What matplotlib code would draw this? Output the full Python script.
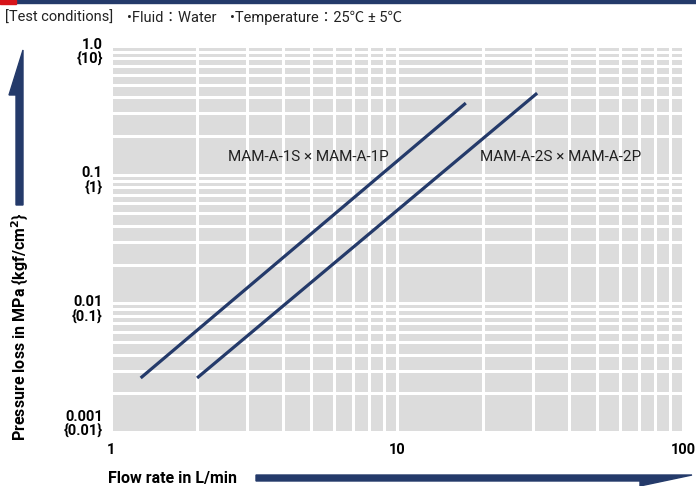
import numpy as np
import matplotlib
matplotlib.use("Agg")
import matplotlib.pyplot as plt
from matplotlib.patches import Polygon, Rectangle
from matplotlib.ticker import LogLocator, NullFormatter, FixedLocator

plt.rcParams['font.family'] = ['Roboto', 'Noto Sans CJK JP', 'DejaVu Sans']

# Datos
flujo_1 = [1.27, 17.4]          # L/min
perdida_1 = [0.00263, 0.36]     # MPa
flujo_2 = [2.0, 30.9]
perdida_2 = [0.00263, 0.43]

etiqueta_1 = 'MAM-A-1S × MAM-A-1P'
etiqueta_2 = 'MAM-A-2S × MAM-A-2P'

x_ticks = [1, 10, 100]
x_labels = ['1', '10', '100']
y_ticks = [1.0, 0.1, 0.01, 0.001]
y_labels = ['1.0\n{10}', '0.1\n{1}', '0.01\n{0.1}', '0.001\n{0.01}']

navy = '#243a6a'
W, H = 696, 486

fig = plt.figure(figsize=(6.96, 4.86), dpi=100)
ax = fig.add_axes([111 / W, 1 - 432 / H, (683 - 111) / W, (432 - 46) / H])
ax.set_facecolor('#dcdcdc')
ax.set_xscale('log')
ax.set_yscale('log')
ax.set_xlim(1, 100)
ax.set_ylim(0.001, 1.0)

ax.xaxis.set_major_locator(FixedLocator(x_ticks))
ax.xaxis.set_minor_locator(LogLocator(base=10, subs=np.arange(2, 10)))
ax.yaxis.set_major_locator(FixedLocator(y_ticks))
ax.yaxis.set_minor_locator(LogLocator(base=10, subs=np.arange(2, 10)))
ax.xaxis.set_minor_formatter(NullFormatter())
ax.yaxis.set_minor_formatter(NullFormatter())
ax.set_xticklabels(x_labels, fontsize=10.5, fontweight='bold')
ax.set_yticklabels([])
ax.tick_params(which='both', length=0, pad=8)
ax.grid(True, which='both', color='white', linewidth=2.2)
ax.set_axisbelow(True)
for s in ax.spines.values():
    s.set_visible(False)

# etiquetas del eje y en dos líneas
for v, lab in zip(y_ticks, y_labels):
    off = 10 if v == 0.001 else 0
    ax.annotate(lab, xy=(0, v), xycoords=('axes fraction', 'data'),
                xytext=(-6, 6 + off), textcoords='offset points',
                ha='right', va='top', fontsize=10.5, fontweight='bold',
                linespacing=1.0)

ax.plot(flujo_1, perdida_1, color=navy, linewidth=2.3, solid_capstyle='butt')
ax.plot(flujo_2, perdida_2, color=navy, linewidth=2.3, solid_capstyle='butt')

ax.text(4.89, 0.137, etiqueta_1, fontsize=11, ha='center', va='center', color='#222222')
ax.text(37.4, 0.137, etiqueta_2, fontsize=11, ha='center', va='center', color='#222222')

# cabecera
fig.patches.append(Rectangle((0, 1 - 3 / H), 1, 3 / H, transform=fig.transFigure,
                             color=navy, zorder=0))
fig.patches.append(Rectangle((0, 1 - 4 / H), 16 / W, 4 / H, transform=fig.transFigure,
                             color='#d7141a', zorder=1))
fig.text(5 / W, 1 - 18 / H, '[Test conditions]', fontsize=10.5, va='center',
         ha='left', color='#222222')
fig.text(127 / W, 1 - 18 / H, '•Fluid：Water', fontsize=10.5, va='center',
         ha='left', color='#222222')
fig.text(230 / W, 1 - 18 / H, '•Temperature：25℃ ± 5℃', fontsize=10.5, va='center',
         ha='left', color='#222222')

# títulos de ejes con flechas
fig.text(20 / W, 1 - 327 / H, 'Pressure loss in MPa {kgf/cm$^\\mathbf{2}$}', rotation=90,
         fontsize=11.5, fontweight='bold', ha='center', va='center')
fig.text(108 / W, 1 - 478 / H, 'Flow rate in L/min', fontsize=11.5,
         fontweight='bold', ha='left', va='center')

def px(pts):
    return [(x / W, 1 - y / H) for x, y in pts]

fig.patches.append(Polygon(px([(16, 205), (23, 205), (23, 50), (9, 95), (16, 95)]),
                           closed=True, transform=fig.transFigure, color=navy))
fig.patches.append(Polygon(px([(256, 475), (692, 475), (640, 486), (640, 481), (256, 481)]),
                           closed=True, transform=fig.transFigure, color=navy))

fig.savefig('out.png', dpi=100)
